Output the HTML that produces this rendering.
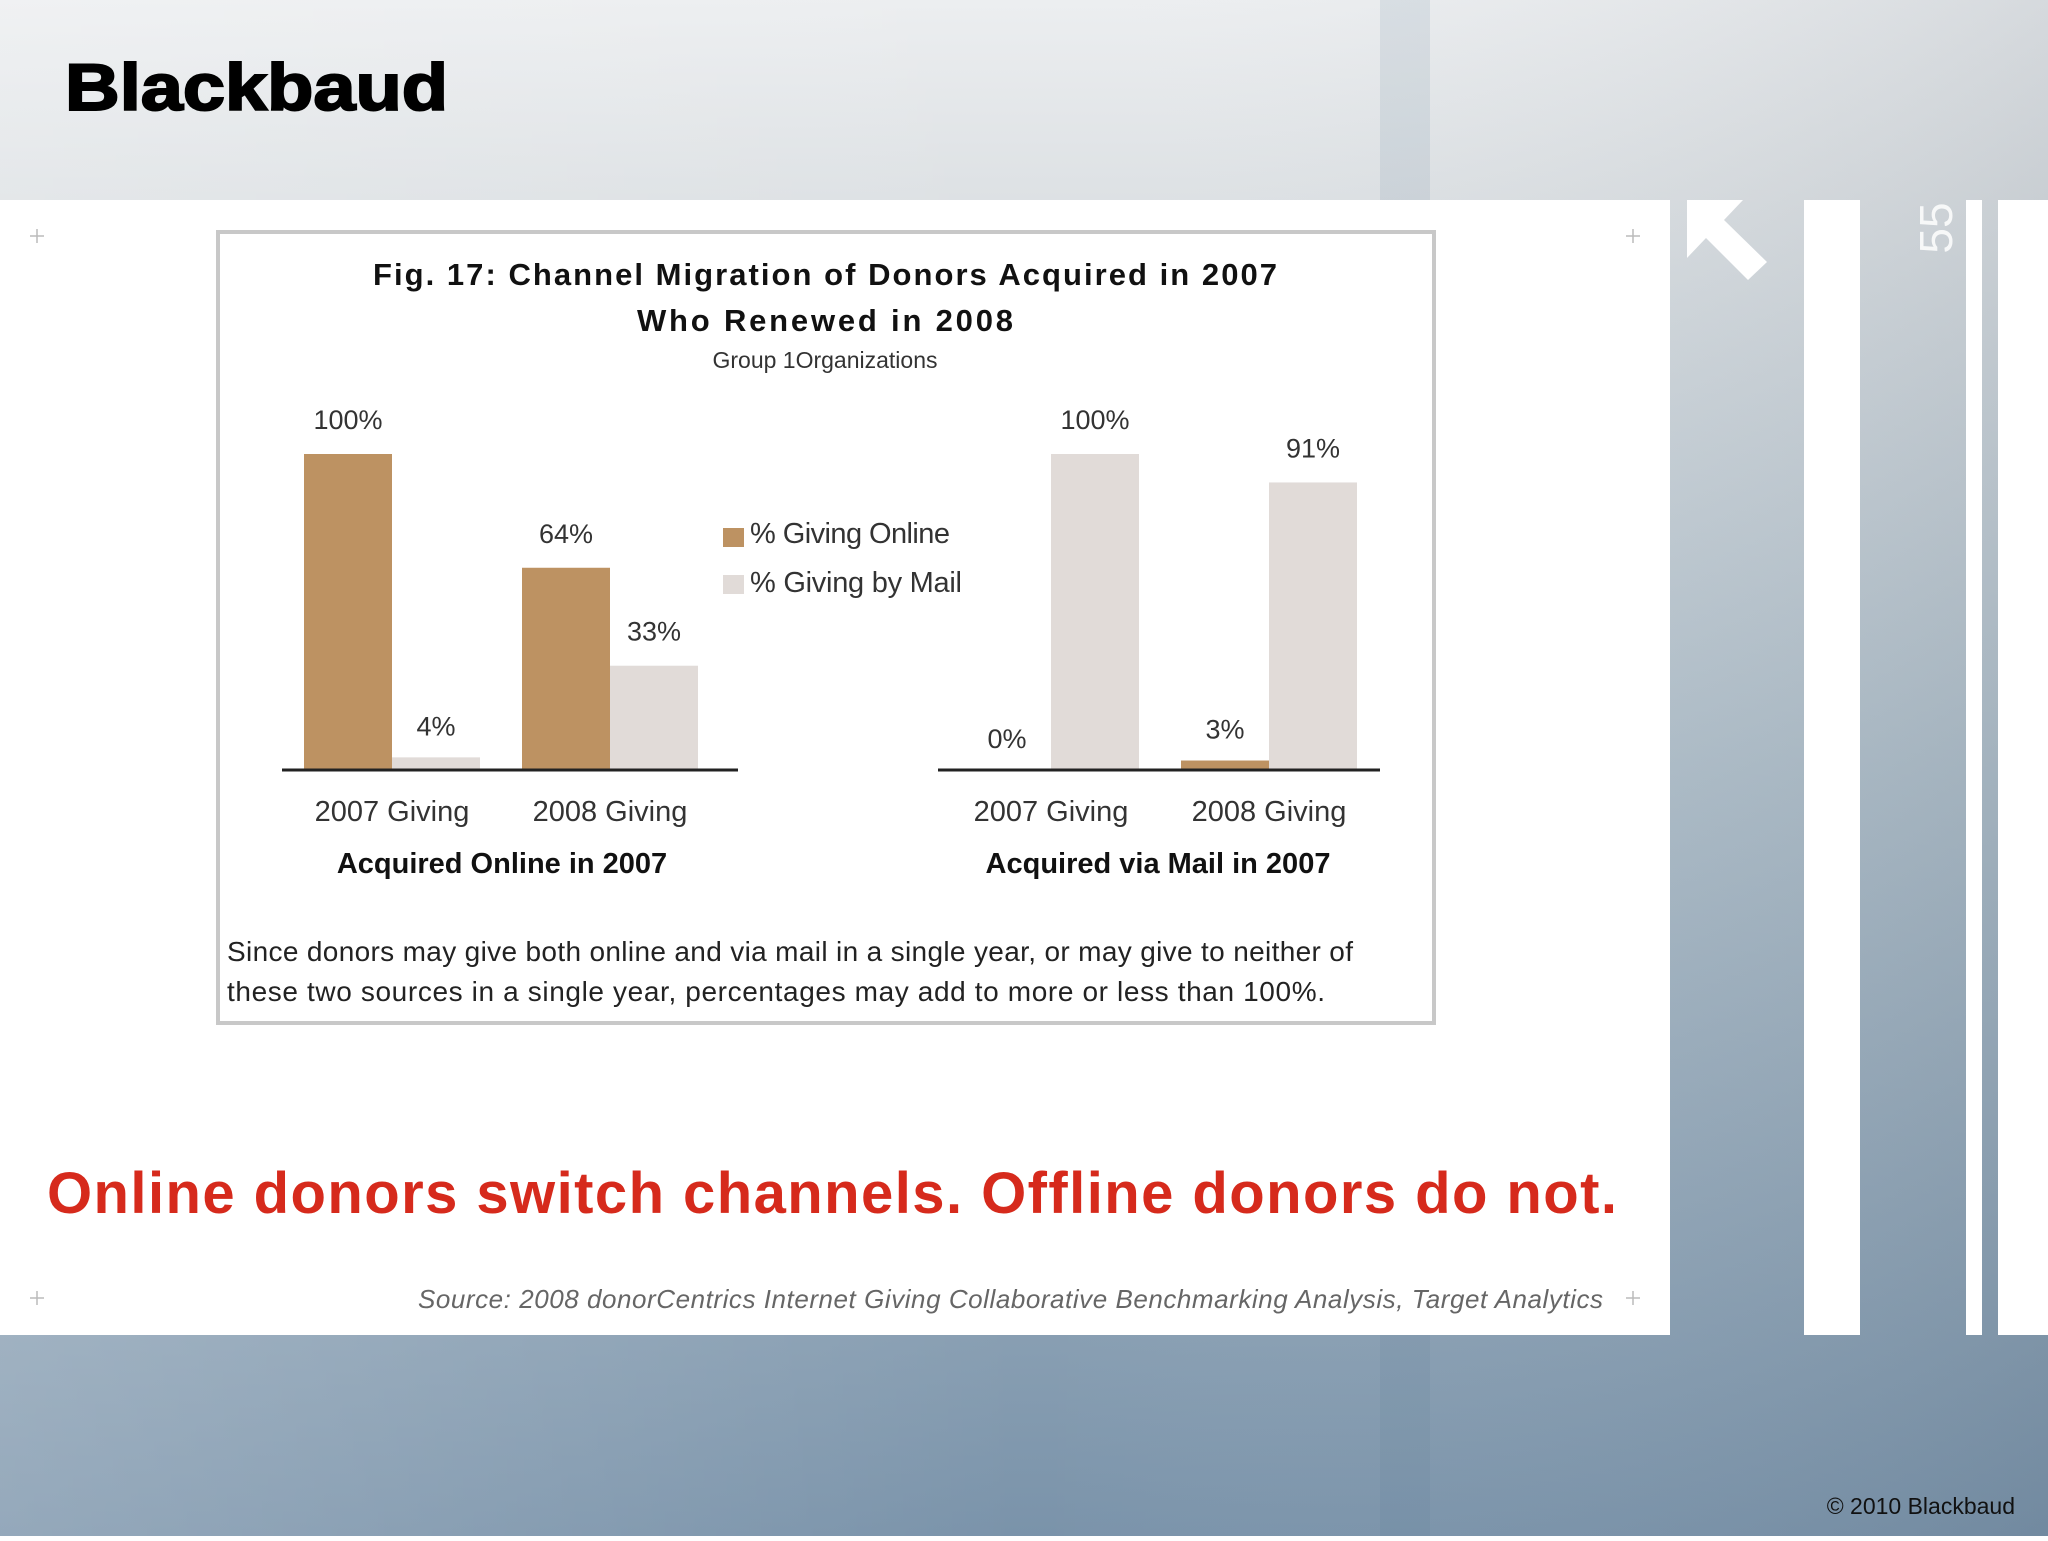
<!DOCTYPE html>
<html><head><meta charset="utf-8"><style>
html,body{margin:0;padding:0;}
body{width:2048px;height:1536px;overflow:hidden;font-family:"Liberation Sans",sans-serif;}
</style></head><body>
<svg width="2048" height="1536" viewBox="0 0 2048 1536" xmlns="http://www.w3.org/2000/svg" font-family="Liberation Sans, sans-serif">
<defs>
<linearGradient id="bg" x1="0" y1="0" x2="0" y2="1">
<stop offset="0" stop-color="#eceef0"/><stop offset="0.13" stop-color="#dde1e4"/><stop offset="0.5" stop-color="#b0bfca"/><stop offset="1" stop-color="#7a93aa"/>
</linearGradient>
<linearGradient id="bgh" x1="0" y1="0" x2="1" y2="0">
<stop offset="0" stop-color="#fff" stop-opacity="0.2"/><stop offset="0.5" stop-color="#fff" stop-opacity="0"/><stop offset="1" stop-color="#345" stop-opacity="0.12"/>
</linearGradient>
</defs>
<rect width="2048" height="1536" fill="url(#bg)"/>
<rect width="2048" height="1536" fill="url(#bgh)"/>
<rect x="1380" y="0" width="50" height="1536" fill="#5d7a95" opacity="0.12"/>
<text x="65" y="110" font-size="66" font-weight="bold" fill="#000" textLength="383" lengthAdjust="spacingAndGlyphs" stroke="#000" stroke-width="2">Blackbaud</text>
<rect x="0" y="200" width="1670" height="1135" fill="#fff"/>
<rect x="1804" y="200" width="56" height="1135" fill="#fff"/>
<rect x="1966" y="200" width="16" height="1135" fill="#fff"/>
<rect x="1998" y="200" width="50" height="1135" fill="#fff"/>
<polygon points="1687,200 1743,200 1724,220 1767,262 1748,280 1706,238 1687,258" fill="#fff"/>
<text transform="translate(1952,228) rotate(-90)" text-anchor="middle" font-size="46" fill="#fff" opacity="0.85">55</text>
<g stroke="#bbb" stroke-width="1.5">
<path d="M30 236h14M37 229v14M1626 236h14M1633 229v14M30 1298h14M37 1291v14M1626 1298h14M1633 1291v14"/>
</g>
<rect x="218" y="232" width="1216" height="791" fill="#fff" stroke="#c8c8c8" stroke-width="4"/>
<text x="825" y="285" text-anchor="middle" font-size="31" font-weight="bold" fill="#111" textLength="904">Fig. 17: Channel Migration of Donors Acquired in 2007</text>
<text x="825" y="331" text-anchor="middle" font-size="31" font-weight="bold" fill="#111" textLength="376">Who Renewed in 2008</text>
<text x="825" y="368" text-anchor="middle" font-size="23" fill="#333">Group 1Organizations</text>
<g id="chart"></g>
<rect x="723" y="528" width="21" height="19" fill="#bd9262"/>
<text x="750" y="543" font-size="29" fill="#333" textLength="200">% Giving Online</text>
<rect x="723" y="575" width="21" height="19" fill="#e1dbd8"/>
<text x="750" y="592" font-size="29" fill="#333" textLength="212">% Giving by Mail</text>
<text x="227" y="961" font-size="28" fill="#222" textLength="1126">Since donors may give both online and via mail in a single year, or may give to neither of</text>
<text x="227" y="1001" font-size="28" fill="#222" textLength="1098">these two sources in a single year, percentages may add to more or less than 100%.</text>
<text x="47" y="1213" font-size="58" font-weight="bold" fill="#d62a1c" textLength="1570">Online donors switch channels. Offline donors do not.</text>
<text x="418" y="1308" font-size="26" font-style="italic" fill="#666" textLength="1185">Source:  2008 donorCentrics Internet Giving Collaborative Benchmarking Analysis, Target Analytics</text>
<text x="2015" y="1514" text-anchor="end" font-size="23" fill="#111">© 2010 Blackbaud</text>
</svg>
<script>
const groups = ["Acquired Online in 2007", "Acquired via Mail in 2007"];
const categories = ["2007 Giving", "2008 Giving"];
const onlineValues = [[100, 64], [0, 3]];
const mailValues = [[4, 33], [100, 91]];
const valueLabels = [[["100%","4%"],["64%","33%"]],[["0%","100%"],["3%","91%"]]];

const NS = "http://www.w3.org/2000/svg";
const g = document.getElementById('chart');
const baseY = 770, plotH = 316;
const y = v => baseY - v / 100 * plotH;
const groupX = [304, 963];
const catStep = 218, barW = 88;
const axisX = [[282, 738], [938, 1380]];
const groupLabelX = [502, 1158];
function mk(tag, attrs) { const e = document.createElementNS(NS, tag); for (const k in attrs) e.setAttribute(k, attrs[k]); g.appendChild(e); return e; }
groups.forEach((gn, gi) => {
  categories.forEach((c, ci) => {
    const x0 = groupX[gi] + ci * catStep;
    const vals = [onlineValues[gi][ci], mailValues[gi][ci]];
    vals.forEach((v, si) => {
      const bx = x0 + si * barW;
      const r = mk('rect', {x: bx, y: y(v), width: barW, height: baseY - y(v), fill: si === 0 ? '#bd9262' : '#e1dbd8'});
      
      
      const t = mk('text', {x: bx + barW / 2, y: y(v) - (v < 10 ? 22 : 25), 'text-anchor': 'middle', 'font-size': 27, fill: '#333'});
      t.textContent = valueLabels[gi][ci][si];
      
      
    });
    const ct = mk('text', {x: x0 + barW, y: 821, 'text-anchor': 'middle', 'font-size': 29, fill: '#333'});
    ct.textContent = c;
    
    
  });
  const ax = mk('line', {x1: axisX[gi][0], x2: axisX[gi][1], y1: baseY, y2: baseY, stroke: '#222', 'stroke-width': 3});
  
  
  const gt = mk('text', {x: groupLabelX[gi], y: 873, 'text-anchor': 'middle', 'font-size': 29, 'font-weight': 'bold', fill: '#111'});
  gt.textContent = gn;
  
  
});
</script>
</body></html>
